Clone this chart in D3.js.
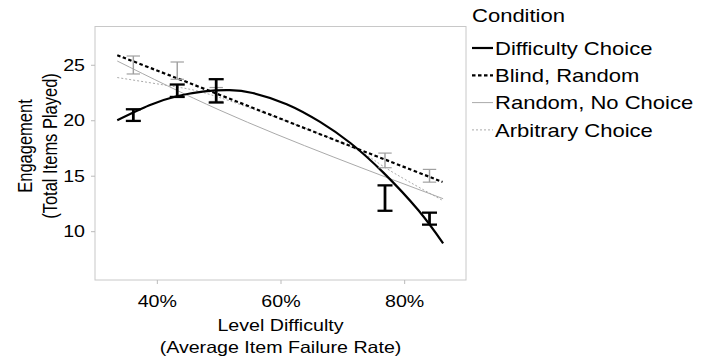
<!DOCTYPE html>
<html>
<head>
<meta charset="utf-8">
<script src="https://cdn.jsdelivr.net/npm/d3@7"></script>
<style>
  body { margin: 0; background: #fff; }
  text { font-family: "Liberation Sans", Arial, sans-serif; fill: #000; }
</style>
</head>
<body>
<svg id="chart" width="710" height="363"></svg>
<script>
// conditions shown in the legend
const conditions = ["Difficulty Choice", "Blind, Random", "Random, No Choice", "Arbitrary Choice"];

// fitted curves (x = failure rate, y = items played)
const difficultyX = [0.336, 0.388, 0.432, 0.477, 0.518, 0.555, 0.610, 0.664, 0.713, 0.766, 0.823, 0.863];
const difficultyY = [20.0, 21.35, 22.16, 22.61, 22.72, 22.46, 21.45, 19.85, 17.95, 15.3, 11.88, 8.9];
const blindX = [0.336, 0.45, 0.60, 0.75, 0.862];
const blindY = [25.86, 23.41, 20.14, 16.87, 14.44];
const randomX = [0.336, 0.502, 0.685, 0.863];
const randomY = [25.34, 20.9, 16.7, 12.93];
const arbitraryX = [0.336, 0.432, 0.518, 0.696, 0.766, 0.863];
const arbitraryY = [23.85, 23.0, 21.74, 18.03, 15.85, 12.75];

// error bars at the five difficulty levels
const levelX = [0.362, 0.433, 0.496, 0.769, 0.841];
const choiceLow = [19.94, 22.1, 21.6, 11.84, 10.59];
const choiceHigh = [20.99, 23.22, 23.7, 14.13, 11.67];
const otherLow = [24.17, 23.69, 21.7, 15.72, 14.42];
const otherHigh = [25.79, 25.25, 22.95, 17.04, 15.57];

const xTicks = [0.4, 0.6, 0.8];
const yTicks = [10, 15, 20, 25];

const SX = 1.19; // picture is stretched sideways
const pLeft = 95, pRight = 466, pTop = 26.5, pBottom = 280;

const svg = d3.select("#chart");

const x = d3.scaleLinear().domain([0.3, 0.9]).range([pLeft, pRight]);
const y = d3.scaleLinear().domain([5.6, 28.45]).range([pBottom, pTop]);

// panel frame
svg.append("rect")
  .attr("x", pLeft).attr("y", pTop)
  .attr("width", pRight - pLeft).attr("height", pBottom - pTop)
  .attr("fill", "none").attr("stroke", "#c8c8c8").attr("stroke-width", 1);

// axes
const xAxis = svg.append("g")
  .attr("transform", "translate(0," + pBottom + ")")
  .call(d3.axisBottom(x).tickValues(xTicks).tickFormat(d3.format(".0%")).tickSize(4).tickPadding(10.8));
const yAxis = svg.append("g")
  .attr("transform", "translate(" + pLeft + ",0)")
  .call(d3.axisLeft(y).tickValues(yTicks).tickSize(4).tickPadding(4.4));

[xAxis, yAxis].forEach(a => {
  a.select(".domain").remove();
  a.selectAll(".tick line").attr("stroke", "#bbb");
  a.selectAll(".tick text")
    .attr("fill", "#000")
    .style("font-size", "16.5px")
    .attr("transform", "scale(" + SX + ",1)");
});

// axis titles
const xTitle = ["Level Difficulty", "(Average Item Failure Rate)"];
xTitle.forEach((t, i) => {
  svg.append("text")
    .attr("transform", "translate(" + (pLeft + pRight) / 2 + "," + (331 + i * 22) + ") scale(" + SX + ",1)")
    .attr("text-anchor", "middle")
    .style("font-size", "16.5px")
    .text(t);
});
const yTitle = ["Engagement", "(Total Items Played)"];
yTitle.forEach((t, i) => {
  svg.append("text")
    .attr("transform", "translate(" + (31.5 + i * 25) + ",146) scale(" + SX + ",1) rotate(-90)")
    .attr("text-anchor", "middle")
    .style("font-size", "16.5px")
    .text(t);
});

// styles per condition
const styles = [
  { color: "#000", width: 2.2, dash: null },
  { color: "#000", width: 2.2, dash: "3.5,2.5" },
  { color: "#aaa", width: 1, dash: null },
  { color: "#aaa", width: 1, dash: "2,2" }
];
const fits = [
  d3.zip(difficultyX, difficultyY),
  d3.zip(blindX, blindY),
  d3.zip(randomX, randomY),
  d3.zip(arbitraryX, arbitraryY)
];

// error bars
const bars = svg.append("g");
function drawBars(low, high, color, w, half) {
  levelX.forEach((lx, i) => {
    const g = bars.append("g").attr("stroke", color).attr("stroke-width", w);
    g.append("line").attr("x1", x(lx)).attr("x2", x(lx)).attr("y1", y(low[i])).attr("y2", y(high[i]))
      .attr("stroke-width", w * 1.2);
    g.append("line").attr("x1", x(lx) - half).attr("x2", x(lx) + half).attr("y1", y(low[i])).attr("y2", y(low[i]));
    g.append("line").attr("x1", x(lx) - half).attr("x2", x(lx) + half).attr("y1", y(high[i])).attr("y2", y(high[i]));
  });
}
drawBars(otherLow, otherHigh, "#a0a0a0", 1.2, 6.7);

const line = d3.line()
  .x(d => x(d[0]))
  .y(d => y(d[1]))
  .curve(d3.curveNatural);

// draw light lines first, dark on top
[3, 2, 1, 0].forEach(i => {
  svg.append("path")
    .datum(fits[i])
    .attr("d", line)
    .attr("fill", "none")
    .attr("stroke", styles[i].color)
    .attr("stroke-width", styles[i].width)
    .attr("stroke-dasharray", styles[i].dash);
});

drawBars(choiceLow, choiceHigh, "#000", 2.3, 7.5);
bars.raise();

// legend
const legend = svg.append("g");
legend.append("text")
  .attr("transform", "translate(472,21.7) scale(" + SX + ",1)")
  .style("font-size", "18.5px")
  .text("Condition");
conditions.forEach((c, i) => {
  const cy = 48 + i * 27.3;
  legend.append("line")
    .attr("x1", 472).attr("x2", 493)
    .attr("y1", cy).attr("y2", cy)
    .attr("stroke", styles[i].color)
    .attr("stroke-width", styles[i].width)
    .attr("stroke-dasharray", styles[i].dash);
  legend.append("text")
    .attr("transform", "translate(495," + (cy + 6.8) + ") scale(" + SX + ",1)")
    .style("font-size", "18.5px")
    .text(c);
});
</script>
</body>
</html>
